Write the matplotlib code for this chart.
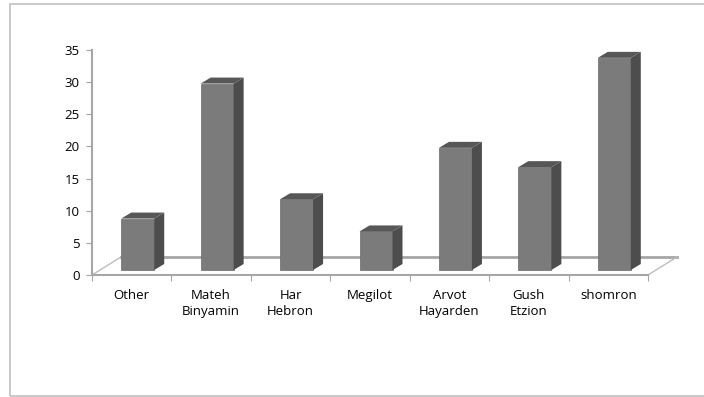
import matplotlib.pyplot as plt
from matplotlib.patches import Polygon, Rectangle

categories = ['Other', 'Mateh\nBinyamin', 'Har\nHebron', 'Megilot',
              'Arvot\nHayarden', 'Gush\nEtzion', 'shomron']
values = [8, 29, 11, 6, 19, 16, 33]

plt.rcParams['font.family'] = ['Open Sans', 'DejaVu Sans']

W, H = 704, 397
fig = plt.figure(figsize=(W / 100, H / 100), dpi=100)

# outer chart border (right side runs off the picture)
fig.patches.append(Rectangle((10 / W, 1 / H), 720 / W, 392 / H, transform=fig.transFigure,
                             fill=False, edgecolor='#c0c0c0', linewidth=1.2))

x0, x1, ytop, ybot = 92, 648, 50, 275
ax = fig.add_axes([x0 / W, (H - ybot) / H, (x1 - x0) / W, (ybot - ytop) / H])
n = len(categories)
ax.set_xlim(-0.5, n - 0.5)
ax.set_ylim(0, 35)

# pixel -> data unit helpers
px_x = (x1 - x0) / n
px_y = (ybot - ytop) / 35.0

# floor depth
fdx, fdy = 29 / px_x, 18 / px_y
axis_col = '#a6a6a6'
ax.plot([-0.5 + fdx, n - 0.5 + fdx], [fdy, fdy], color='#a6a6a6', lw=2, zorder=1, clip_on=False)
ax.plot([-0.5, -0.5 + fdx], [0, fdy], color='#bdbdbd', lw=1, zorder=1, clip_on=False)
ax.plot([n - 0.5, n - 0.5 + fdx], [0, fdy], color='#bdbdbd', lw=1, zorder=1, clip_on=False)

# bars
bw = 33 / px_x
off_x, off_y = 6 / px_x, 5 / px_y
sdx, sdy = 10 / px_x, 6 / px_y
front_col, side_col, top_col = '#7b7b7b', '#4d4d4d', '#575757'
xs = [i + off_x for i in range(n)]
ax.bar(xs, values, width=bw, bottom=off_y, color=front_col, edgecolor='#6a6a6a',
       linewidth=0.5, zorder=3, clip_on=False)
for cx, v in zip(xs, values):
    r = cx + bw / 2
    l = cx - bw / 2
    top = off_y + v
    ax.add_patch(Polygon([(r, off_y), (r + sdx, off_y + sdy), (r + sdx, top + sdy), (r, top)],
                         closed=True, facecolor=side_col, edgecolor='none', zorder=3, clip_on=False))
    ax.add_patch(Polygon([(l, top), (r, top), (r + sdx, top + sdy), (l + sdx, top + sdy)],
                         closed=True, facecolor=top_col, edgecolor='none', zorder=3, clip_on=False))

# axes styling
for s in ['top', 'right']:
    ax.spines[s].set_visible(False)
for s in ['left', 'bottom']:
    ax.spines[s].set_color(axis_col)
    ax.spines[s].set_linewidth(1.5)
ax.patch.set_visible(False)

ax.set_yticks(range(0, 36, 5))
ax.tick_params(axis='y', length=4, color=axis_col, labelsize=9.5, pad=5)
ax.set_xticks([i - 0.5 for i in range(n + 1)])
ax.set_xticklabels([])
ax.set_xticks(range(n), minor=True)
ax.set_xticklabels(categories, minor=True, fontsize=9.5, linespacing=1.3, va='top')
ax.tick_params(axis='x', which='major', length=4, color=axis_col)
ax.tick_params(axis='x', which='minor', length=0, pad=10)

fig.savefig('out.png', dpi=100)
